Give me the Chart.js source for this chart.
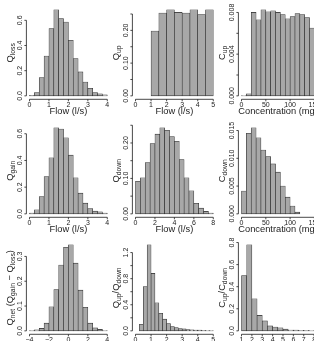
<!DOCTYPE html>
<html>
<head>
<meta charset="utf-8">
<script src="https://cdn.jsdelivr.net/npm/chart.js@4.4.1/dist/chart.umd.min.js"></script>
<style>
  html, body { margin: 0; padding: 0; background: #fff; overflow: hidden; }
  body { width: 314px; height: 341px; position: relative; }
  canvas { position: absolute; }
</style>
</head>
<body>
<script>
// bin edges and densities
const qLossBreaks = [0, 0.25, 0.5, 0.75, 1, 1.25, 1.5, 1.75, 2, 2.25, 2.5, 2.75, 3, 3.25, 3.5, 3.75, 4];
const qLoss = [0.005, 0.026, 0.145, 0.316, 0.534, 0.684, 0.613, 0.587, 0.442, 0.297, 0.19, 0.11, 0.06, 0.026, 0.016, 0.008];

const qUpBreaks = [1, 1.5, 2, 2.5, 3, 3.5, 4, 4.5, 5];
const qUp = [0.198, 0.253, 0.263, 0.255, 0.253, 0.263, 0.248, 0.263];

const cUpBreaks = [0, 10, 20, 30, 40, 50, 60, 70, 80, 90, 100, 110, 120, 130, 140, 150];
const cUp = [0.00003, 0.0002, 0.008, 0.0073, 0.00826, 0.00806, 0.00816, 0.008, 0.0078, 0.0074, 0.0076, 0.0079, 0.0078, 0.0075, 0.0065];

const qGainBreaks = [0, 0.25, 0.5, 0.75, 1, 1.25, 1.5, 1.75, 2, 2.25, 2.5, 2.75, 3, 3.25, 3.5, 3.75, 4];
const qGain = [0.005, 0.03, 0.13, 0.28, 0.42, 0.645, 0.635, 0.57, 0.44, 0.27, 0.155, 0.08, 0.04, 0.02, 0.015, 0.005];

const qDownBreaks = [0, 0.5, 1, 1.5, 2, 2.5, 3, 3.5, 4, 4.5, 5, 5.5, 6, 6.5, 7, 7.5, 8];
const qDown = [0.092, 0.102, 0.145, 0.198, 0.225, 0.243, 0.236, 0.218, 0.205, 0.153, 0.102, 0.065, 0.03, 0.016, 0.007, 0.002];

const cDownBreaks = [0, 10, 20, 30, 40, 50, 60, 70, 80, 90, 100, 110, 120];
const cDown = [0.0041, 0.0145, 0.0155, 0.0137, 0.0115, 0.0103, 0.009, 0.0075, 0.005, 0.003, 0.0014, 0.0003];

const qNetBreaks = [-4, -3.5, -3, -2.5, -2, -1.5, -1, -0.5, 0, 0.5, 1, 1.5, 2, 2.5, 3, 3.5, 4];
const qNet = [0.001, 0.004, 0.01, 0.031, 0.097, 0.166, 0.265, 0.337, 0.347, 0.273, 0.164, 0.095, 0.031, 0.012, 0.006, 0.001];

const qRatioBreaks = [0.25, 0.5, 0.75, 1, 1.25, 1.5, 1.75, 2, 2.25, 2.5, 2.75, 3, 3.25, 3.5, 3.75, 4, 4.25, 4.5, 4.75, 5];
const qRatio = [0.1, 0.68, 1.32, 0.88, 0.43, 0.27, 0.18, 0.11, 0.065, 0.05, 0.035, 0.03, 0.02, 0.015, 0.012, 0.01, 0.008, 0.006, 0.005];

const cRatioBreaks = [1, 1.5, 2, 2.5, 3, 3.5, 4, 4.5, 5, 5.5, 6, 6.5, 7, 7.5, 8];
const cRatio = [0.5, 0.78, 0.29, 0.14, 0.09, 0.045, 0.035, 0.028, 0.015, 0.008, 0.007, 0.005, 0.004, 0.003];

// tick labels per panel
const flowTicks4 = [0, 1, 2, 3, 4];
const flowTicks5 = [0, 1, 2, 3, 4, 5];
const flowTicks8 = [0, 2, 4, 6, 8];
const concTicks = [0, 50, 100, 150];
const netTicks = [-4, -2, 0, 2, 4];
const cRatioTicks = [1, 2, 3, 4, 5, 6, 7, 8];

const flowLabel = "Flow (l/s)";
const concLabel = "Concentration (mg/l)";

const panels = [
  { breaks: qLossBreaks, dens: qLoss, xlim: [0, 4], xTicks: flowTicks4, yStep: 0.2, yDec: 1, yLab: [["Q", 0], ["loss", 1]], xLab: flowLabel },
  { breaks: qUpBreaks, dens: qUp, xlim: [0, 5], xTicks: flowTicks5, yStep: 0.05, yDec: 2, yLab: [["Q", 0], ["up", 1]], xLab: flowLabel },
  { breaks: cUpBreaks, dens: cUp, xlim: [0, 160], xTicks: concTicks, yStep: 0.002, yDec: 3, yLab: [["C", 0], ["up", 1]], xLab: concLabel },
  { breaks: qGainBreaks, dens: qGain, xlim: [0, 4], xTicks: flowTicks4, yStep: 0.2, yDec: 1, yLab: [["Q", 0], ["gain", 1]], xLab: flowLabel },
  { breaks: qDownBreaks, dens: qDown, xlim: [0, 8], xTicks: flowTicks8, yStep: 0.05, yDec: 2, yLab: [["Q", 0], ["down", 1]], xLab: flowLabel },
  { breaks: cDownBreaks, dens: cDown, xlim: [0, 160], xTicks: concTicks, yStep: 0.005, yDec: 3, yLab: [["C", 0], ["down", 1]], xLab: concLabel },
  { breaks: qNetBreaks, dens: qNet, xlim: [-4, 4], xTicks: netTicks, yStep: 0.1, yDec: 1, yLab: [["Q", 0], ["net", 1], [" (Q", 0], ["gain", 1], [" \u2212 Q", 0], ["loss", 1], [")", 0]], xLab: null },
  { breaks: qRatioBreaks, dens: qRatio, xlim: [0, 5], xTicks: flowTicks5, yStep: 0.2, yDec: 1, yLab: [["Q", 0], ["up", 1], ["/Q", 0], ["down", 1]], xLab: null },
  { breaks: cRatioBreaks, dens: cRatio, xlim: [1, 8.5], xTicks: cRatioTicks, yStep: 0.2, yDec: 1, yLab: [["C", 0], ["up", 1], ["/C", 0], ["down", 1]], xLab: null }
];

const FONT = '"Liberation Sans", Arial, sans-serif';
const CELL_W = 106, CELL_H = 117.6;
const CANVAS_W = 124, CANVAS_H = 118;
const PLOT_LEFT = 26.4, PLOT_W = 84, PLOT_BOTTOM = 99.3, PLOT_H = 93;
const TICK_FONT = 7, TITLE_FONT = 9.3, SUB_FONT = 6.8;
const INK = "#1c1c1c";

// R style axes: line spans first..last tick, labels dropped when they would overlap
const rAxes = {
  id: "rAxes",
  afterDraw(chart, args, p) {
    const { ctx, chartArea: a } = chart;
    const x = chart.scales.x, y = chart.scales.y;
    ctx.save();
    ctx.strokeStyle = INK;
    ctx.fillStyle = INK;
    ctx.lineWidth = 0.8;
    ctx.font = `${TICK_FONT}px ${FONT}`;
    const gap = ctx.measureText("m").width;

    // x axis
    const xs = p.xTicks.map(v => x.getPixelForValue(v));
    ctx.beginPath();
    ctx.moveTo(xs[0], a.bottom);
    ctx.lineTo(xs[xs.length - 1], a.bottom);
    xs.forEach(px => { ctx.moveTo(px, a.bottom); ctx.lineTo(px, a.bottom + 2); });
    ctx.stroke();
    ctx.textAlign = "center";
    ctx.textBaseline = "top";
    let lastRight = -Infinity;
    p.xTicks.forEach((v, i) => {
      const s = String(v).replace("-", "\u2212");
      const w = ctx.measureText(s).width;
      if (xs[i] - w / 2 < lastRight + gap) return;
      ctx.fillText(s, xs[i], a.bottom + 2.4);
      lastRight = xs[i] + w / 2;
    });

    // y axis
    const top = y.max;
    const yTicks = [];
    for (let k = 0; k * p.yStep <= top + 1e-12; k++) yTicks.push(k * p.yStep);
    const ys = yTicks.map(v => y.getPixelForValue(v));
    ctx.beginPath();
    ctx.moveTo(a.left, ys[0]);
    ctx.lineTo(a.left, ys[ys.length - 1]);
    ys.forEach(py => { ctx.moveTo(a.left, py); ctx.lineTo(a.left - 2, py); });
    ctx.stroke();
    let lastTop = Infinity;
    yTicks.forEach((v, i) => {
      const s = v.toFixed(p.yDec);
      const w = ctx.measureText(s).width;
      if (ys[i] + w / 2 > lastTop - gap) return;
      ctx.save();
      ctx.translate(a.left - 6.2, ys[i]);
      ctx.rotate(-Math.PI / 2);
      ctx.textAlign = "center";
      ctx.textBaseline = "middle";
      ctx.fillText(s, 0, 0);
      ctx.restore();
      lastTop = ys[i] - w / 2;
    });

    // x title
    if (p.xLab) {
      ctx.font = `${TITLE_FONT}px ${FONT}`;
      ctx.textAlign = "center";
      ctx.textBaseline = "middle";
      ctx.fillText(p.xLab, (a.left + a.right) / 2, a.bottom + 12);
    }

    // y title with subscripts
    const parts = p.yLab.map(([t, sub]) => {
      ctx.font = `${sub ? SUB_FONT : TITLE_FONT}px ${FONT}`;
      return { t, sub, w: ctx.measureText(t).width };
    });
    const total = parts.reduce((s, q) => s + q.w, 0);
    ctx.save();
    ctx.translate(a.left - 17, (a.top + a.bottom) / 2);
    ctx.rotate(-Math.PI / 2);
    ctx.textAlign = "left";
    ctx.textBaseline = "alphabetic";
    let cx = -total / 2;
    parts.forEach(q => {
      ctx.font = `${q.sub ? SUB_FONT : TITLE_FONT}px ${FONT}`;
      ctx.fillText(q.t, cx, q.sub ? 5.6 : 3.3);
      cx += q.w;
    });
    ctx.restore();
    ctx.restore();
  }
};

panels.forEach((p, i) => {
  const col = i % 3, row = Math.floor(i / 3);
  const canvas = document.createElement("canvas");
  canvas.width = CANVAS_W;
  canvas.height = CANVAS_H;
  canvas.style.left = (col * CELL_W) + "px";
  canvas.style.top = Math.round(row * CELL_H) + "px";
  canvas.style.width = CANVAS_W + "px";
  canvas.style.height = CANVAS_H + "px";
  document.body.appendChild(canvas);

  const binW = p.breaks[1] - p.breaks[0];
  const points = p.dens.map((d, k) => ({ x: (p.breaks[k] + p.breaks[k + 1]) / 2, y: d }));
  const ymax = Math.max(...p.dens);
  const xr = p.xlim[1] - p.xlim[0];

  new Chart(canvas, {
    type: "bar",
    data: {
      datasets: [{
        data: points,
        backgroundColor: "#a8a8a8",
        borderColor: "#2a2a2a",
        borderWidth: 0.6,
        borderSkipped: false,
        barPercentage: 1,
        categoryPercentage: 1
      }]
    },
    options: {
      responsive: false,
      animation: false,
      events: [],
      layout: {
        padding: {
          left: PLOT_LEFT,
          right: CANVAS_W - PLOT_LEFT - PLOT_W,
          top: PLOT_BOTTOM - PLOT_H,
          bottom: CANVAS_H - PLOT_BOTTOM
        }
      },
      plugins: {
        legend: { display: false },
        tooltip: { enabled: false },
        rAxes: p
      },
      scales: {
        x: {
          type: "linear",
          display: false,
          offset: false,
          min: p.xlim[0] - 0.04 * xr,
          max: p.xlim[1] + 0.04 * xr,
          ticks: { stepSize: binW, includeBounds: false }
        },
        y: {
          display: false,
          min: -0.04 * ymax,
          max: 1.04 * ymax
        }
      }
    },
    plugins: [rAxes]
  });
});
</script>
</body>
</html>
